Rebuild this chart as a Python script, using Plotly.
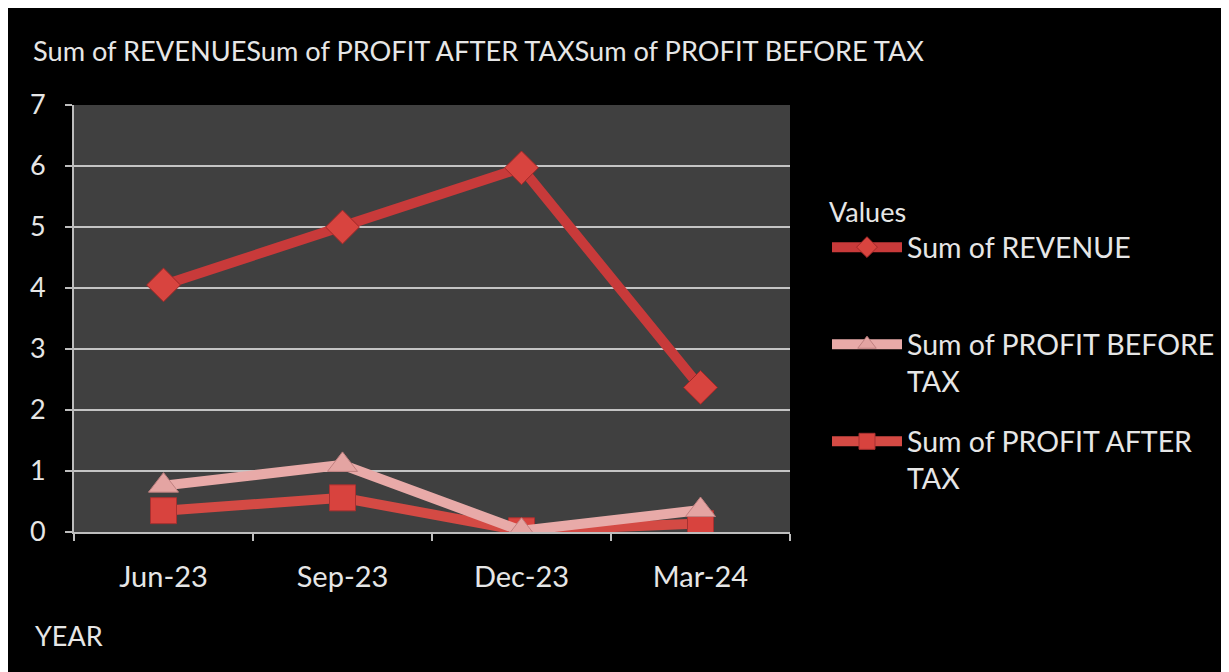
import plotly.graph_objects as go

categories = ["Jun-23", "Sep-23", "Dec-23", "Mar-24"]
revenue = [4.05, 5.0, 5.97, 2.37]
profit_before_tax = [0.76, 1.1, 0.02, 0.36]
profit_after_tax = [0.35, 0.56, 0.02, 0.14]
y_ticks = [0, 1, 2, 3, 4, 5, 6, 7]

OFF = 8  # page body margin
W, H = 1221, 664
L, R, T, B = 74 - OFF, 439, 105 - OFF, 140
pw, ph = W - L - R, H - T - B

FONT = "Lato"
TXT = "#e6e6e6"
fig = go.Figure()

fig.add_trace(go.Scatter(
    x=categories, y=revenue, name="Sum of REVENUE<br>&nbsp;", mode="lines+markers",
    line=dict(color="#c83a3a", width=10),
    marker=dict(symbol="diamond", size=26, color="#d8443f", line=dict(color="#a02828", width=1)),
    legendgroup="a", legendrank=1,
))
fig.add_trace(go.Scatter(
    x=categories, y=profit_after_tax, name="Sum of PROFIT AFTER<br>TAX", mode="lines+markers",
    line=dict(color="#d44a44", width=10),
    marker=dict(symbol="square", size=26, color="#d8433e", line=dict(color="#a83030", width=1)),
    legendgroup="c", legendrank=3,
))
fig.add_trace(go.Scatter(
    x=categories, y=profit_before_tax, name="Sum of PROFIT BEFORE<br>TAX", mode="lines+markers",
    line=dict(color="#e8aaa8", width=10),
    marker=dict(symbol="triangle-up", size=26, color="#e4a4a2", line=dict(color="#c08080", width=1)),
    legendgroup="b", legendrank=2,
))


def fx(xs):
    return (xs - OFF - L) / pw


def fy(ys):
    return (H - B - (ys - OFF)) / ph


fig.update_layout(
    width=W, height=H,
    margin=dict(l=L, r=R, t=T, b=B, autoexpand=False),
    paper_bgcolor="black",
    plot_bgcolor="#404040",
    font=dict(family=FONT, color=TXT, size=27),
    showlegend=True,
    legend=dict(
        title=dict(text="Values", font=dict(size=27, color=TXT)),
        x=fx(827), xanchor="left", y=fy(187), yanchor="top",
        font=dict(size=28.5, color=TXT),
        tracegroupgap=20, itemwidth=70, valign="top",
        bgcolor="rgba(0,0,0,0)",
    ),
    annotations=[
        dict(text="Sum of REVENUESum of PROFIT AFTER TAXSum of PROFIT BEFORE TAX",
             xref="paper", yref="paper", x=fx(31), y=fy(50), xanchor="left", yanchor="middle",
             showarrow=False, font=dict(size=27.2, color=TXT)),
        dict(text="YEAR", xref="paper", yref="paper", x=fx(33), y=fy(635),
             xanchor="left", yanchor="middle", showarrow=False, font=dict(size=27, color=TXT)),
    ],
    xaxis=dict(
        type="category", categoryorder="array", categoryarray=categories,
        range=[-0.5, len(categories) - 0.5],
        showgrid=False, showline=True, linecolor="#bdbdbd", linewidth=2,
        ticks="outside", tickson="boundaries", ticklen=7, tickcolor="#bdbdbd", tickwidth=2,
        ticklabelstandoff=18, tickfont=dict(size=29, color=TXT),
        zeroline=False,
    ),
    yaxis=dict(
        range=[0, 7], tickvals=y_ticks, showgrid=True, gridcolor="#c4c4c4", gridwidth=2,
        showline=True, linecolor="#bdbdbd", linewidth=2,
        ticks="outside", ticklen=7, tickcolor="#bdbdbd", tickwidth=2,
        ticklabelstandoff=14, tickfont=dict(size=27, color=TXT),
        zeroline=False,
    ),
)

fig.write_html("out.html")
